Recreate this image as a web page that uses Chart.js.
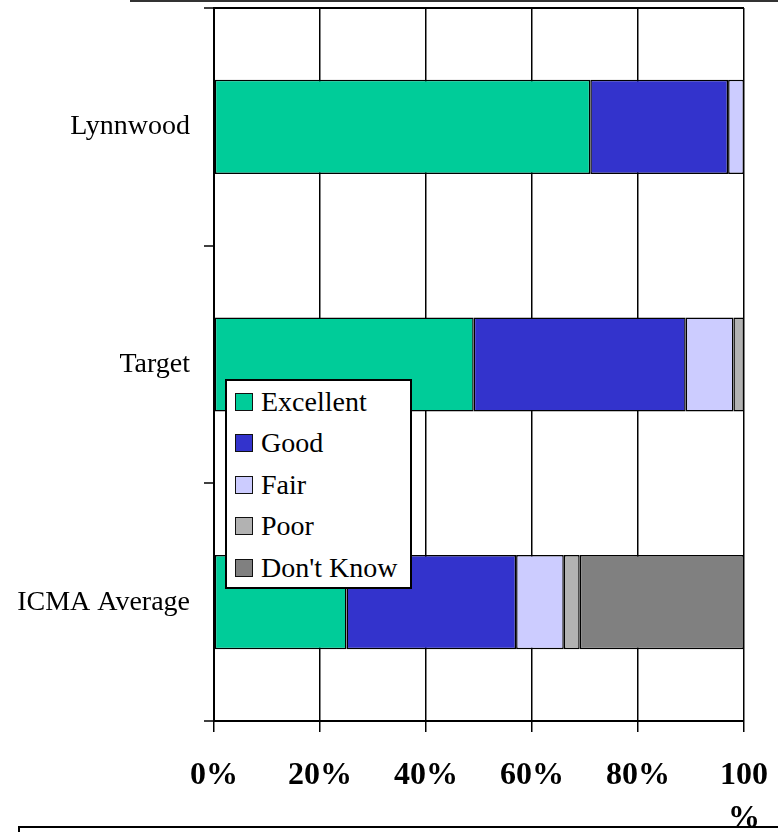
<!DOCTYPE html>
<html>
<head>
<meta charset="utf-8">
<script src="https://cdn.jsdelivr.net/npm/chart.js@4"></script>
<style>
  body { margin: 0; background: #fff; }
  #wrap { position: relative; width: 778px; height: 832px; overflow: hidden; }
  #topline { position: absolute; left: 130px; top: 0; width: 648px; height: 2px; background: #333; }
  #notebox { position: absolute; left: 18px; top: 826px; width: 780px; height: 40px; border: 2px solid #000; }
  #legend {
    position: absolute; left: 225px; top: 379px; width: 183px; height: 206px;
    border: 2px solid #000; background: #fff;
    font-family: "Liberation Serif", "Times New Roman", serif; font-size: 28px; color: #000;
  }
  #legend .item { display: flex; align-items: center; height: 41.5px; }
  #legend .box { width: 16px; height: 16px; border: 1.5px solid #111; margin: 0 8px 0 8px; }
</style>
</head>
<body>
<div id="wrap">
  <canvas id="chart" width="778" height="832"></canvas>
  <div id="topline"></div>
  <div id="notebox"></div>
  <div id="legend"></div>
</div>
<script>
// categories and series (percent)
const categories = ['Lynnwood', 'Target', 'ICMA Average'];
const excellent = [71, 49, 25];
const good = [26, 40, 32];
const fair = [3, 9, 9];
const poor = [0, 2, 3];
const dontKnow = [0, 0, 31];
const seriesNames = ['Excellent', 'Good', 'Fair', 'Poor', "Don't Know"];
const seriesColors = ['#00CC99', '#3333CC', '#CCCCFF', '#B2B2B2', '#808080'];
const xTickLabels = ['0%', '20%', '40%', '60%', '80%', ['100', '%']];

const serif = '"Liberation Serif", "Times New Roman", serif';
const allSeries = [excellent, good, fair, poor, dontKnow];

const ctx = document.getElementById('chart').getContext('2d');
const chart = new Chart(ctx, {
    type: 'bar',
    data: {
        labels: categories,
        datasets: allSeries.map((vals, i) => ({
            label: seriesNames[i],
            data: vals,
            backgroundColor: seriesColors[i],
            borderColor: '#000',
            borderWidth: 1.5,
            borderSkipped: false,
            categoryPercentage: 1,
            barPercentage: 0.396
        }))
    },
    options: {
        indexAxis: 'y',
        responsive: false,
        animation: false,
        devicePixelRatio: 1,
        layout: { padding: { top: 8, right: 34, left: 0, bottom: 0 } },
        plugins: {
            legend: { display: false },
            tooltip: { enabled: false }
        },
        scales: {
            x: {
                stacked: true,
                min: 0,
                max: 100,
                afterFit: s => {
                    s.height = 111;
                    s.paddingLeft = 0;
                    s.paddingRight = 0;
                },
                ticks: {
                    stepSize: 20,
                    padding: 22,
                    color: '#000',
                    font: { family: serif, size: 32, weight: 'bold', lineHeight: 1.35 },
                    callback: (v, i) => xTickLabels[i]
                },
                grid: { color: '#000', lineWidth: 1.5, tickLength: 11, tickColor: '#000' },
                border: { color: '#000', width: 2 }
            },
            y: {
                stacked: true,
                afterFit: s => {
                    s.width = 214;
                    s.paddingTop = 0;
                    s.paddingBottom = 0;
                },
                ticks: {
                    padding: 14,
                    color: '#000',
                    font: { family: serif, size: 28 }
                },
                grid: {
                    offset: true,
                    color: c => c.index === 0 ? '#000' : 'rgba(0,0,0,0)',
                    lineWidth: 2,
                    tickLength: 10,
                    tickColor: '#000',
                    tickWidth: 1.5
                },
                border: { color: '#000', width: 2 }
            }
        }
    }
});

// legend built from the chart's datasets
const legendEl = document.getElementById('legend');
chart.data.datasets.forEach(ds => {
    const item = document.createElement('div');
    item.className = 'item';
    const box = document.createElement('span');
    box.className = 'box';
    box.style.background = ds.backgroundColor;
    const txt = document.createElement('span');
    txt.textContent = ds.label;
    item.appendChild(box);
    item.appendChild(txt);
    legendEl.appendChild(item);
});
</script>
</body>
</html>
